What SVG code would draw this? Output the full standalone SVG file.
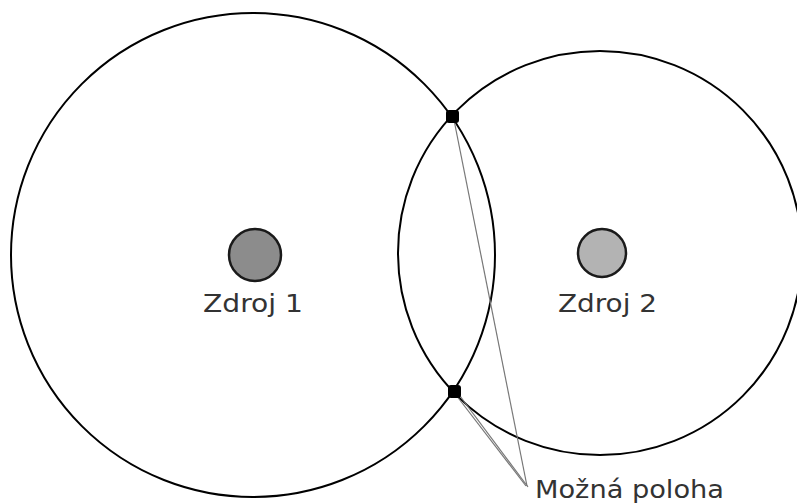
<svg xmlns="http://www.w3.org/2000/svg" width="797" height="504" viewBox="0 0 797 504">
  <style>
    .range { fill: none; stroke: #000; stroke-width: 2; }
    .src { stroke: #1a1a1a; stroke-width: 2.5; }
    .lbl { font-family: "DejaVu Sans", Verdana, sans-serif; font-size: 24px; fill: #333; }
    .lead { stroke: #777; stroke-width: 1.2; fill: none; }
    .pt { fill: #000; }
  </style>
  <rect width="797" height="504" fill="#fff"/>
  <g id="range1"><circle class="range" cx="253" cy="255" r="242"/></g>
  <g id="range2"><circle class="range" cx="600" cy="253" r="202"/></g>
  <g id="zdroj1">
    <circle class="src" cx="255" cy="255" r="26" fill="#8c8c8c"/>
    <text class="lbl" x="203" y="312" textLength="100" lengthAdjust="spacingAndGlyphs">Zdroj 1</text>
  </g>
  <g id="zdroj2">
    <circle class="src" cx="602" cy="253" r="24" fill="#b3b3b3"/>
    <text class="lbl" x="558" y="312" textLength="99" lengthAdjust="spacingAndGlyphs">Zdroj 2</text>
  </g>
  <g id="connectors">
    <line class="lead" x1="454" y1="120" x2="527" y2="486"/>
    <line class="lead" x1="456" y1="395" x2="526" y2="486"/>
    <line class="lead" x1="460" y1="396" x2="528" y2="487"/>
  </g>
  <g id="poloha1"><rect class="pt" x="446" y="110" width="13" height="13" rx="3"/></g>
  <g id="poloha2"><rect class="pt" x="448" y="385" width="13" height="13" rx="3"/></g>
  <g id="label">
    <text class="lbl" x="535" y="498" textLength="189" lengthAdjust="spacingAndGlyphs">Možná poloha</text>
  </g>
</svg>
